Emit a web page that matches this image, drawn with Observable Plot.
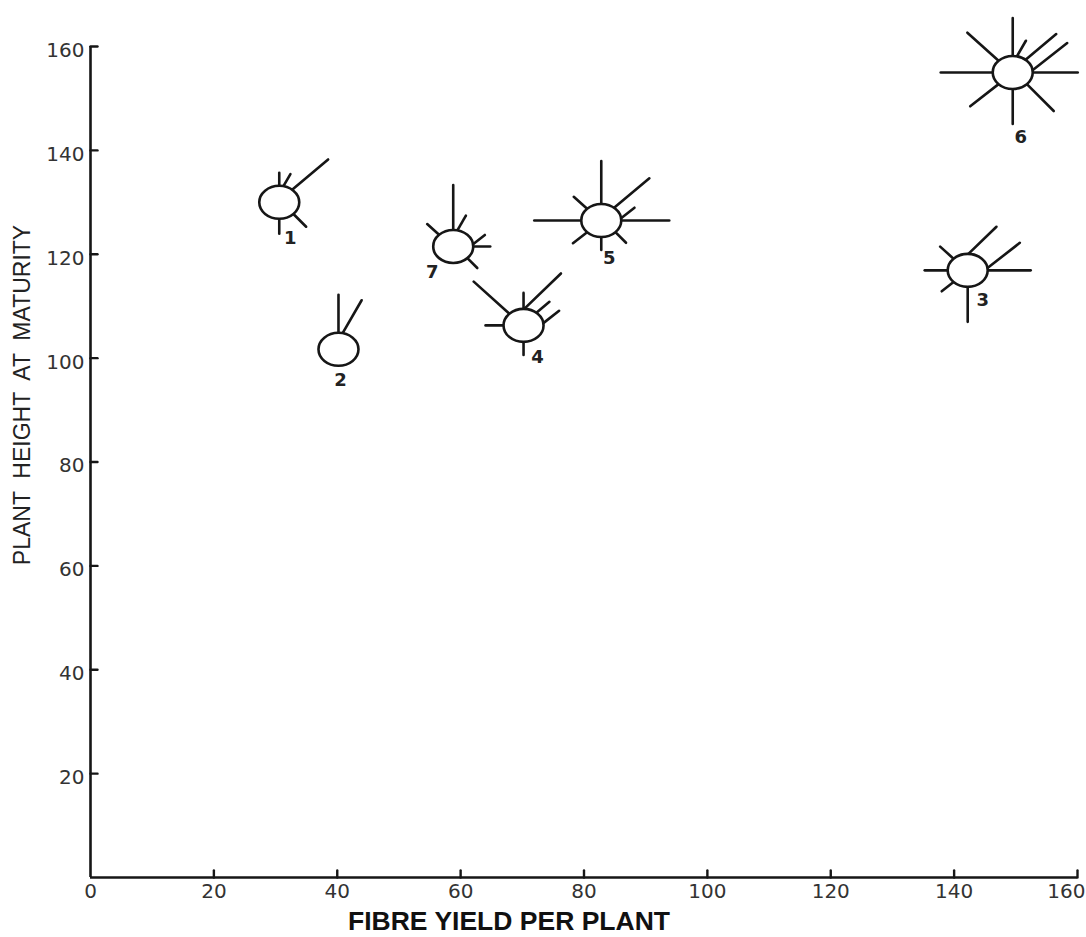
<!DOCTYPE html>
<html><head><meta charset="utf-8">
<script src="https://cdn.jsdelivr.net/npm/d3@7"></script>
<script src="https://cdn.jsdelivr.net/npm/@observablehq/plot@0.6"></script>
<style>body{margin:0;background:#fff}</style>
</head><body><div id="chart"></div>
<script>
// ---- data ----
const glyphs      = ["1", "2", "3", "4", "5", "6", "7"];
const fibreYield  = [30.6, 40.2, 142.2, 70.2, 82.8, 149.5, 58.8];
const plantHeight = [130.0, 101.7, 116.9, 106.3, 126.5, 155.0, 121.5];
// metroglyph ray lengths (score 0-10), one array per ray position, glyph order 1..7
const rayN       = [2.6, 7.6, 0,   3.2, 8.6, 7.6, 9.0];
const rayNNE     = [2.8, 7.6, 0,   0,   0,   3.6, 3.4];
const rayNEtop   = [0,   0,   7.8, 10.2, 0,  0,   0];
const rayNEupper = [9.4, 0,   0,   3.4, 9.2, 8.0, 0];
const rayNEright = [0,   0,   8.2, 4.0, 3.4, 8.8, 3.0];
const rayE       = [0,   0,   8.6, 0,   9.6, 9.0, 3.4];
const raySE      = [3.6, 0,   0,   0,   3.0, 7.6, 2.8];
const rayS       = [3.0, 0,   7.0, 2.6, 2.6, 7.0, 0];
const raySW      = [0,   0,   3.0, 0,   3.6, 7.2, 0];
const rayW       = [0,   0,   4.6, 3.6, 9.4, 10.4, 0];
const rayNW      = [0,   0,   3.6, 9.6, 3.6, 8.4, 3.2];
const xTicks = [0, 20, 40, 60, 80, 100, 120, 140, 160];
const yTicks = [20, 40, 60, 80, 100, 120, 140, 160];
const xTitle = "FIBRE YIELD PER PLANT";
const yTitle = "PLANT  HEIGHT  AT  MATURITY";

// ---- glyph geometry / style ----
const A = 20, B = 16.5;           // ellipse half-axes (px)
const ink = "#161616";
const slots = [
  {values: rayN,       attach: 90,   dir: 90},
  {values: rayNNE,     attach: 78,   dir: 60},
  {values: rayNEtop,   attach: 88,   dir: 44},
  {values: rayNEupper, attach: 50,   dir: 40},
  {values: rayNEright, attach: 8,    dir: 38},
  {values: rayE,       attach: 0,    dir: 0},
  {values: raySE,      attach: -45,  dir: -45},
  {values: rayS,       attach: -90,  dir: -90},
  {values: raySW,      attach: -135, dir: -142},
  {values: rayW,       attach: 180,  dir: 180},
  {values: rayNW,      attach: 135,  dir: 138}
];
const labelOffsets = {"1": [11, 36], "2": [2, 31], "3": [15, 30], "4": [14, 32], "5": [8, 38], "6": [8, 65], "7": [-21, 26]};

const lineShape = {draw(ctx, l) { ctx.moveTo(0, 0); ctx.lineTo(0, -l); }};
const k = 0.5523;
const ellipse = {draw(ctx) {
  ctx.moveTo(A, 0);
  ctx.bezierCurveTo(A, -k * B, k * A, -B, 0, -B);
  ctx.bezierCurveTo(-k * A, -B, -A, -k * B, -A, 0);
  ctx.bezierCurveTo(-A, k * B, -k * A, B, 0, B);
  ctx.bezierCurveTo(k * A, B, A, k * B, A, 0);
  ctx.closePath();
}};

const points = glyphs.map((g, i) => ({g, x: fibreYield[i], y: plantHeight[i]}));
const rad = d => d * Math.PI / 180;

const rayMarks = slots.map(s => {
  const rows = points.map((p, i) => ({...p, len: s.values[i]})).filter(d => d.len > 0);
  return Plot.vector(rows, {
    x: "x", y: "y", length: "len", rotate: 90 - s.dir, anchor: "start", shape: lineShape,
    dx: A * Math.cos(rad(s.attach)), dy: -B * Math.sin(rad(s.attach)),
    stroke: ink, strokeWidth: 2.6, strokeLinecap: "round"
  });
});

const labelMarks = points.map(p => Plot.text([p], {
  x: "x", y: "y", text: "g", dx: labelOffsets[p.g][0], dy: labelOffsets[p.g][1],
  fontFamily: "DejaVu Sans", fontSize: 18, fontWeight: "bold", fill: "#222"
}));

const tickText = {fontSize: 20, letterSpacing: 2.5, fill: "#333"};
const lastX = xTicks[xTicks.length - 1];

const chart = Plot.plot({
  width: 1086, height: 937,
  marginLeft: 90, marginRight: 9, marginTop: 46, marginBottom: 60,
  x: {domain: [0, 160], axis: null},
  y: {domain: [0, 160], axis: null},
  length: {domain: [0, 10], range: [0, 50]},
  style: {fontFamily: "DejaVu Sans", background: "white"},
  marks: [
    Plot.ruleY([0], {stroke: ink, strokeWidth: 2.6}),
    Plot.ruleX([0], {stroke: ink, strokeWidth: 2.6}),
    Plot.vector(xTicks.filter(d => d > 0), {x: d => d, y: 0, length: 7, rotate: 0, anchor: "start", shape: lineShape, stroke: ink, strokeWidth: 2.4}),
    Plot.vector(yTicks, {x: 0, y: d => d, length: 7, rotate: 90, anchor: "start", shape: lineShape, stroke: ink, strokeWidth: 2.4}),
    Plot.text(xTicks.filter(d => d !== lastX), {x: d => d, y: 0, dy: 14, text: d => String(d), lineAnchor: "middle", ...tickText}),
    Plot.text([lastX], {x: d => d, y: 0, dy: 14, dx: 8, text: d => String(d), textAnchor: "end", lineAnchor: "middle", ...tickText}),
    Plot.text(yTicks, {x: 0, y: d => d, dx: -6, dy: 4, text: d => String(d), textAnchor: "end", ...tickText}),
    Plot.text([xTitle], {frameAnchor: "bottom", dx: -75, dy: 52, text: d => d, fontFamily: "Liberation Sans Narrow, Liberation Sans", fontWeight: "bold", fontSize: 26.5, fill: "#111"}),
    Plot.text([yTitle], {frameAnchor: "left", textAnchor: "middle", dx: -68, dy: -67, rotate: -90, text: d => d, fontFamily: "Liberation Sans Narrow, Liberation Sans", fontSize: 23, fill: "#222"}),
    ...rayMarks,
    Plot.dot(points, {x: "x", y: "y", symbol: ellipse, r: 20, fill: "white", stroke: ink, strokeWidth: 2.6}),
    ...labelMarks
  ]
});
document.getElementById("chart").appendChild(chart);
</script>
</body></html>
